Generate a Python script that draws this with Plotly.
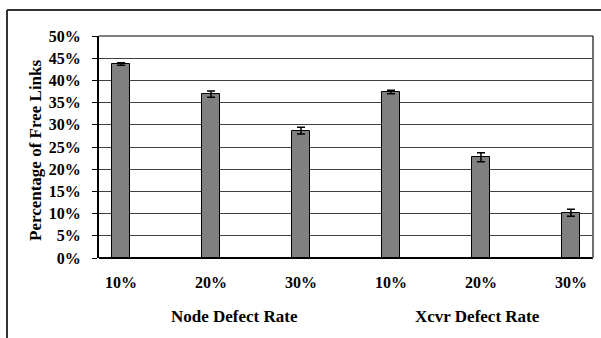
import plotly.graph_objects as go

categories = ["10%", "20%", "30%", "10%", "20%", "30%"]
groups = ["Node Defect Rate", "Xcvr Defect Rate"]
values = [43.7, 36.9, 28.7, 37.4, 22.7, 10.2]
errors = [0.3, 0.7, 0.75, 0.4, 1.0, 0.8]
y_ticks = [0, 5, 10, 15, 20, 25, 30, 35, 40, 45, 50]
y_ticktext = [f"{v}%" for v in y_ticks]

xpos = list(range(len(categories)))
FONT = "Liberation Serif"

fig = go.Figure()
fig.add_trace(go.Bar(
    x=xpos, y=values, width=0.2,
    marker=dict(color="#808080", line=dict(color="#000000", width=1)),
    error_y=dict(type="data", array=errors, color="#000000", thickness=1.5, width=4),
    showlegend=False,
))

W, H = 601, 338
L, R, T, B = 99, 593, 36, 258

def px(x):
    return (x - L) / (R - L)

def py(y):
    return (B - y) / (B - T)

fig.update_layout(
    width=W, height=H,
    margin=dict(l=L, r=W - R, t=T, b=H - B),
    paper_bgcolor="white", plot_bgcolor="white",
    font=dict(family=FONT, size=16, color="#000000"),
    bargap=0,
    xaxis=dict(
        range=[-0.245, 5.245], tickvals=xpos, ticktext=categories,
        showgrid=False, zeroline=False, showline=False, ticks="",
        tickfont=dict(family=FONT, size=16, color="#000000", weight="bold"),
        ticklabelstandoff=13,
    ),
    yaxis=dict(
        range=[0, 50], tickvals=y_ticks, ticktext=y_ticktext,
        showgrid=True, gridcolor="#404040", gridwidth=1,
        zeroline=False, showline=True, linecolor="#000000", linewidth=2,
        ticks="outside", ticklen=5, tickcolor="#000000", tickwidth=1,
        tickfont=dict(family=FONT, size=16, color="#000000", weight="bold"),
        ticklabelstandoff=8,
    ),
)

# group labels
group_x = [px(234), px(477)]
for gx, g in zip(group_x, groups):
    fig.add_annotation(x=gx, y=py(316), xref="paper", yref="paper", text=f"<b>{g}</b>",
                       xanchor="center", yanchor="middle", showarrow=False,
                       font=dict(family=FONT, size=17, color="#000000"))

# y axis title
fig.add_annotation(x=px(35), y=py(150), xref="paper", yref="paper",
                   text="<b>Percentage of Free Links</b>", textangle=-90, showarrow=False,
                   xanchor="center", yanchor="middle",
                   font=dict(family=FONT, size=17, color="#000000"))

# plot area: bottom line, right border, top line
fig.add_shape(type="line", xref="paper", yref="paper", x0=0, x1=1, y0=0, y1=0,
              line=dict(color="#000000", width=2), layer="above")
fig.add_shape(type="line", xref="paper", yref="paper", x0=1, x1=1, y0=0, y1=1,
              line=dict(color="#707070", width=2), layer="above")
fig.add_shape(type="line", xref="paper", yref="paper", x0=0, x1=1, y0=1, y1=1,
              line=dict(color="#000000", width=1), layer="above")

# outer frame (top and left)
fig.add_shape(type="line", xref="paper", yref="paper", x0=px(7), x1=px(601), y0=py(10), y1=py(10),
              line=dict(color="#333333", width=2))
fig.add_shape(type="line", xref="paper", yref="paper", x0=px(7), x1=px(7), y0=py(10), y1=py(338),
              line=dict(color="#333333", width=2))

fig.write_html("out.html", config={"displayModeBar": False},
               post_script="document.body.style.margin='0';")
